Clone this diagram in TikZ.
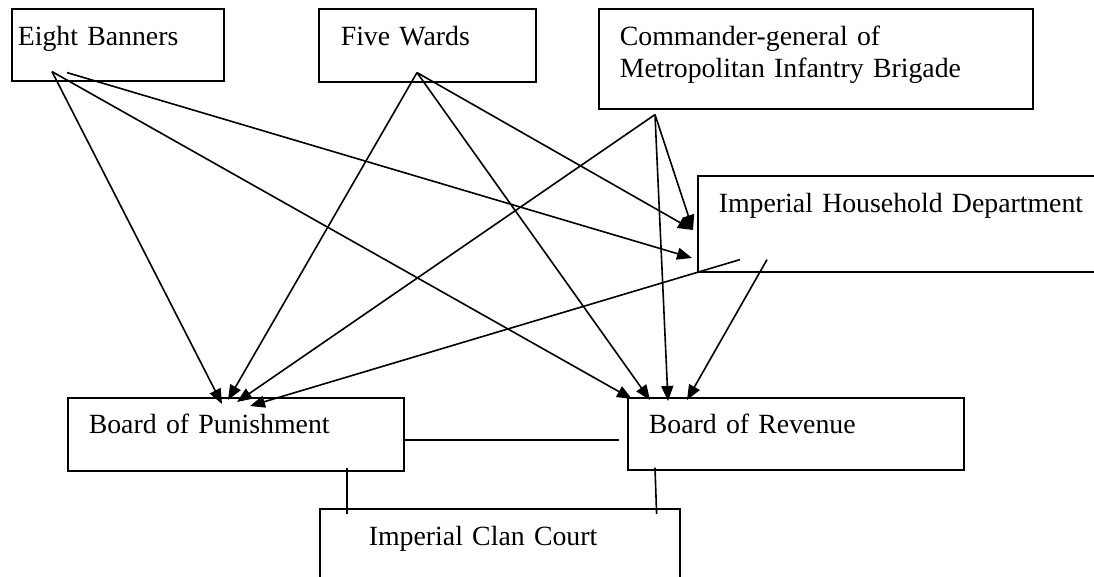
\documentclass[tikz,border=0pt]{standalone}
\usepackage{fontspec}
\setmainfont{Liberation Serif}
\usetikzlibrary{arrows.meta}

\begin{document}
\begin{tikzpicture}[x=1pt,y=-1pt,line width=1.6pt,
	boxnode/.style={draw,anchor=north west,inner ysep=0pt,inner xsep=21pt,align=left,text height=37pt,font=\fontsize{27.8}{32}\selectfont},
	arr/.style={-{Triangle[length=15pt,width=12pt]}}]
		\clip (0,0) rectangle (1094,577);

		\node[boxnode,inner xsep=6pt,text width=200pt,text depth=35pt]					(eb)	at (11,8)		{Eight Banners};
		\node[boxnode,inner xsep=22pt,text width=173pt,text depth=36pt]				(fw)	at (318,8)		{Five Wards};
		\node[boxnode,text width=392pt,text depth=63pt]								(cg)	at (598,8)		{Commander-general of\\Metropolitan Infantry Brigade};
		\node[boxnode,text width=458pt,text depth=59pt]								(ihd)	at (697,175)	{Imperial Household Department};
		\node[boxnode,text width=294pt,text height=36pt,text depth=37pt]				(bp)	at (67,397)		{Board of Punishment};
		\node[boxnode,text width=294pt,text height=36pt,text depth=36pt]				(br)	at (627,397)	{Board of Revenue};
		\node[boxnode,inner xsep=49pt,text width=262pt,text depth=83pt]				(icc)	at (319,508)	{Imperial Clan Court};

		% start points
		\coordinate (eb-a)	at ([shift={(41,-10)}]eb.south west);
		\coordinate (eb-b)	at ([shift={(56,-9)}]eb.south west);
		\coordinate (fw-a)	at ([shift={(99,-10)}]fw.south west);
		\coordinate (cg-a)	at ([shift={(57,5)}]cg.south west);
		\coordinate (ihd-a)	at ([shift={(43,-13)}]ihd.south west);
		\coordinate (ihd-b)	at ([shift={(70,-13)}]ihd.south west);

		% tips
		\coordinate (bp-1)	at ([shift={(155,7)}]bp.north west);
		\coordinate (bp-2)	at ([shift={(161,3)}]bp.north west);
		\coordinate (bp-3)	at ([shift={(170,5)}]bp.north west);
		\coordinate (bp-4)	at ([shift={(183,9)}]bp.north west);
		\coordinate (br-1)	at ([shift={(5,2)}]br.north west);
		\coordinate (br-2)	at ([shift={(23,3)}]br.north west);
		\coordinate (br-3)	at ([shift={(41,4)}]br.north west);
		\coordinate (br-4)	at ([shift={(60,3)}]br.north west);
		\coordinate (ihd-1)	at ([shift={(-4,55)}]ihd.north west);
		\coordinate (ihd-2)	at ([shift={(-5,83)}]ihd.north west);

		\draw[arr] (eb-a) -- (bp-1);
		\draw[arr] (eb-a) -- (br-1);
		\draw[arr] (eb-b) -- (ihd-2);
		\draw[arr] (fw-a) -- (bp-2);
		\draw[arr] (fw-a) -- (br-2);
		\draw[arr] (fw-a) -- (ihd-1);
		\draw[arr] (cg-a) -- (bp-3);
		\draw[arr] (cg-a) -- (br-3);
		\draw[arr] (cg-a) -- (ihd-1);
		\draw[arr] (ihd-a) -- (bp-4);
		\draw[arr] (ihd-b) -- (br-4);

		\draw ([shift={(0,5.5)}]bp.east) -- ([shift={(-8,6)}]br.west);
		\draw ([shift={(280,-4)}]bp.south west) -- ([shift={(28,6)}]icc.north west);
		\draw ([shift={(28,-3)}]br.south west) -- ([shift={(-24,6)}]icc.north east);
	\end{tikzpicture}
\end{document}
